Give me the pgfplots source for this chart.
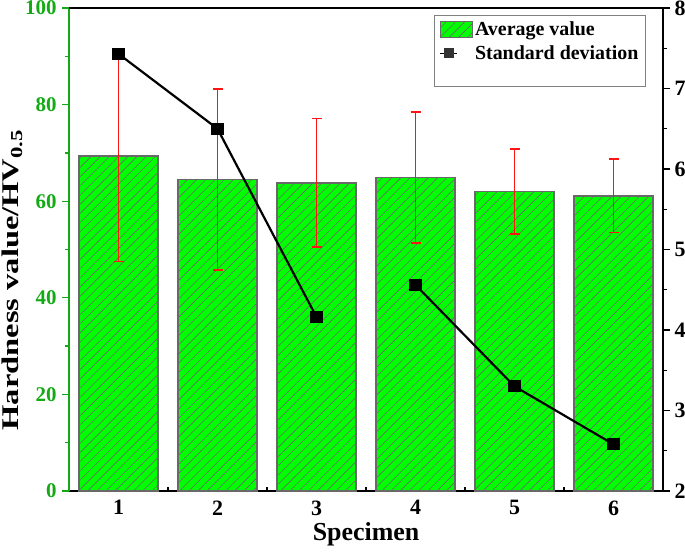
\documentclass[border=0pt]{standalone}
\usepackage{fontspec}
\setmainfont{Liberation Serif}
\usepackage{graphicx}
\usepackage{pgfplots}
\pgfplotsset{compat=1.18}
\usetikzlibrary{patterns.meta}
\definecolor{barg}{RGB}{0,255,0}
\definecolor{axg}{RGB}{20,170,20}
\definecolor{edge}{RGB}{105,105,105}
\definecolor{errred}{RGB}{255,20,20}
\pgfplotsset{common/.style={width=594bp,height=483bp,scale only axis,xmin=0.5,xmax=6.5,
  /pgf/number format/assume math mode=true,
  ticklabel style={font=\fontsize{21}{21}\selectfont\bfseries},
  label style={font=\fontsize{25}{25}\selectfont\bfseries}},
  hatchbar/.style={fill=barg, draw=edge, line width=1.6bp,
    postaction={pattern={Lines[angle=45,distance=6.5bp,line width=0.6bp]}, pattern color=edge}},
  rectleg/.style={legend image code/.code={\draw[##1] (0bp,-8bp) rectangle (32bp,8bp);}},
  spacerleg/.style={legend image code/.code={\path[draw=none,fill=none] (0bp,-6bp) -- (0bp,6bp);}}}
\begin{document}
\begin{tikzpicture}
% bars and x axis
\begin{axis}[common, ymin=0, ymax=100,
  axis x line*=bottom, axis y line*=left,
  ytick=\empty, xtick={1,...,6}, minor xtick={1.5,2.5,3.5,4.5,5.5},
  tick align=inside, major tick length=7bp, minor tick length=4bp,
  x axis line style={black, line width=1.8bp, -},
  y axis line style={axg, line width=1.8bp, -},
  xtick style={black, line width=1.3bp},
  xticklabel style={font=\fontsize{22}{22}\selectfont\bfseries, yshift=-6bp},
  xlabel={Specimen},
  xlabel style={font=\fontsize{26}{26}\selectfont\bfseries,
    at={(rel axis cs:0.5,0)}, anchor=center, yshift=-43bp}]
\coordinate (ll) at (rel axis cs:0,0);
\coordinate (ur) at (rel axis cs:1,1);
\addplot[ybar, bar width=0.8, hatchbar]
  coordinates {(1,69.4) (2,64.5) (3,63.8) (4,64.9) (5,62.0) (6,61.1)};
\addplot[draw=none, mark=none, forget plot,
  error bars/.cd, y dir=both, y explicit,
  error bar style={draw=errred, line width=1.7bp},
  error mark options={rotate=90, mark size=5bp, draw=errred, line width=1.7bp}]
  coordinates {(1,69.4) +- (0,21.9) (2,64.5) +- (0,18.8) (3,63.8) +- (0,13.3)
               (4,64.9) +- (0,13.5) (5,62.0) +- (0,8.85) (6,61.1) +- (0,7.6)};
\end{axis}
% left y axis
\begin{axis}[common, ymin=0, ymax=100,
  axis x line=none, axis y line*=left,
  ytick={0,20,...,100}, minor ytick={10,30,50,70,90},
  tick align=outside, major tick length=7bp, minor tick length=4bp,
  y axis line style={axg, line width=1.8bp, -},
  ytick style={axg, line width=1.3bp},
  yticklabel style={axg, xshift=-2bp},
  ylabel={\scalebox{1.36}[1]{Hardness value/HV\textsubscript{0.5}}},
  ylabel style={font=\fontsize{24}{24}\selectfont\bfseries,
    at={(rel axis cs:0,0.437)}, anchor=center, yshift=57bp}]
\addplot[draw=none] coordinates {(1,0)};
\end{axis}
% right y axis
\begin{axis}[common, ymin=2, ymax=8,
  axis x line*=top, xtick=\empty,
  axis y line*=right,
  ytick={2,...,8}, minor ytick={2.5,3.5,4.5,5.5,6.5,7.5},
  tick align=outside, major tick length=7bp, minor tick length=4bp,
  axis line style={black, line width=1.8bp, -},
  ytick style={black, line width=1.3bp},
  yticklabel style={font=\fontsize{22}{22}\selectfont\bfseries, xshift=1bp},
  legend style={at={(rel axis cs:0.971,0.986)}, anchor=north east,
    draw=gray, line width=0.8bp, font=\fontsize{20}{20}\selectfont\bfseries,
    row sep=4bp, inner sep=5bp},
  legend cell align=left]
\addlegendimage{hatchbar, line width=1.2bp, rectleg}
\addlegendentry{Average value}
\addlegendimage{black, line width=0.8bp, mark=square*, mark size=4.5bp, mark options={fill=darkgray!80!black, draw=darkgray!80!black}}
\addlegendentry{Standard deviation}
\addlegendimage{spacerleg}
\addlegendentry{\fontsize{14}{14}\selectfont\phantom{X}}
\addplot[black, line width=2.2bp, mark=square*, mark size=5bp, forget plot]
  coordinates {(1,7.43) (2,6.50) (3,4.16)};
\addplot[black, line width=2.2bp, mark=square*, mark size=5bp, forget plot]
  coordinates {(4,4.56) (5,3.30) (6,2.58)};
\end{axis}
\pgfresetboundingbox
\path ([shift={(-69bp,-60bp)}]ll) rectangle ([shift={(22bp,8bp)}]ur);
\end{tikzpicture}
\end{document}
